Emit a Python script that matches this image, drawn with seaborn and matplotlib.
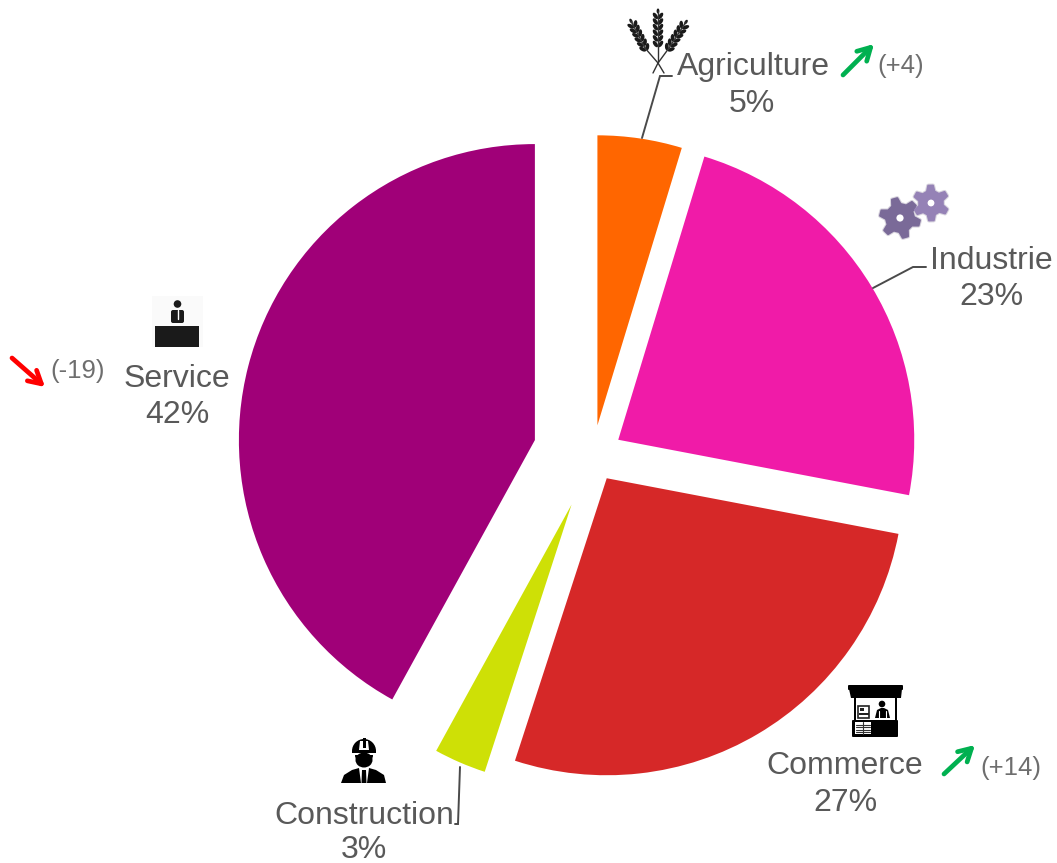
import numpy as np
import matplotlib
matplotlib.use("Agg")
import matplotlib.pyplot as plt
from matplotlib.patches import Circle, Ellipse, Polygon, Rectangle, FancyBboxPatch, Wedge
import seaborn as sns

categories = ["Agriculture", "Industrie", "Commerce", "Construction", "Service"]
shares = [4.7, 23.3, 27, 3, 42]
share_labels = ["5%", "23%", "27%", "3%", "42%"]
changes = ["(+4)", None, "(+14)", None, "(-19)"]
trend_up = [True, None, True, None, False]

slice_colors = ["#FF6600", "#F01BA8", "#D62828", "#CEE006", "#A00078"]
explode = [30, 29.5, 27, 54, 60]
radii = [290, 296, 297, 281, 296]
label_xy = [(753, 64), (991, 257), (845, 762), (364, 812), (177, 375)]
pct_xy = [(752, 100), (991, 293), (845, 799), (364, 846), (177, 411)]
change_xy = [(901, 64), None, (1011, 765), None, (78, 368)]
arrow_from = [(843, 75), None, (944, 774), None, (12, 358)]
arrow_to = [(874, 44), None, (975, 745), None, (45, 387)]
leaders = [
    [(642, 138), (660, 76), (672, 76)],
    [(873, 288), (913, 267), (926, 267)],
    None,
    [(455, 824), (458, 824), (460, 767)],
    None,
]

W, H = 1057, 863
TEXT = "#595959"
CX, CY = 593, 455

sns.set_theme(style="white")
plt.rcParams["font.family"] = ["Liberation Sans", "DejaVu Sans"]

fig = plt.figure(figsize=(W / 100, H / 100), dpi=100, facecolor="white")
ax = fig.add_axes([0, 0, 1, 1])
wedges, _ = ax.pie(
    shares,
    colors=sns.color_palette(slice_colors),
    explode=explode,
    startangle=90,
    counterclock=False,
    radius=296,
    center=(CX, H - CY),
    frame=True,
)
for w, r in zip(wedges, radii):
    w.set_radius(r)
    w.set_linewidth(0)
ax.set_xlim(0, W)
ax.set_ylim(0, H)
ax.set_axis_off()

# overlay in reference pixel coordinates
ov = fig.add_axes([0, 0, 1, 1], facecolor="none")
ov.set_xlim(0, W)
ov.set_ylim(H, 0)
ov.set_axis_off()

for i, cat in enumerate(categories):
    ov.text(*label_xy[i], cat, fontsize=23.0, color=TEXT, ha="center", va="center_baseline")
    ov.text(*pct_xy[i], share_labels[i], fontsize=23.0, color=TEXT, ha="center", va="center_baseline")
    if changes[i]:
        ov.text(*change_xy[i], changes[i], fontsize=18.5, color="#6E6E6E", ha="center", va="center_baseline")
        ov.annotate(
            "", xy=arrow_to[i], xytext=arrow_from[i],
            arrowprops=dict(arrowstyle="->,head_length=0.75,head_width=0.42", lw=3.4,
                            color="#00B050" if trend_up[i] else "#FF0000",
                            shrinkA=0, shrinkB=0),
        )
    if leaders[i]:
        xs, ys = zip(*leaders[i])
        ov.plot(xs, ys, color="#4A4A4A", lw=1.4, solid_joinstyle="miter")

DARK = "#1A1A1A"


def ear(x0, y0, x1, y1, n=6):
    """Wheat ear along a line, with pairs of grains."""
    ang = np.degrees(np.arctan2(y1 - y0, x1 - x0))
    ov.plot([x0, x1], [y0, y1], color="#333333", lw=1.0)
    for t in np.linspace(0.0, 0.85, n):
        px, py = x0 + (x1 - x0) * t, y0 + (y1 - y0) * t
        for s in (-1, 1):
            a = np.radians(ang + s * 90)
            ov.add_patch(Ellipse((px + 2.6 * np.cos(a), py + 2.6 * np.sin(a)), 7.5, 3.8,
                                 angle=ang + s * 35, color=DARK, lw=0))
    ov.add_patch(Ellipse((x1, y1), 5, 2.8, angle=ang, color=DARK, lw=0))


# Wheat (Agriculture)
ear(658, 44, 658, 11)
ear(645, 48, 631, 21)
ear(669, 48, 686, 22)
for seg in [((658, 62), (658, 44)), ((658, 63), (645, 48)), ((658, 63), (669, 48)),
            ((658, 63), (653, 73)), ((658, 63), (664, 73))]:
    ov.plot(*zip(*seg), color="#333333", lw=1.0)


def gear(cx, cy, ro, ri, hole, color, teeth=6, phase=0.0):
    pts = []
    step = 2 * np.pi / teeth
    for k in range(teeth):
        a = phase + k * step
        for da, r in [(-0.30, ri), (-0.13, ro), (0.13, ro), (0.30, ri)]:
            pts.append((cx + r * np.cos(a + da * step), cy + r * np.sin(a + da * step)))
    ov.add_patch(Polygon(pts, closed=True, facecolor="#D8D4DE", edgecolor="#D8D4DE", lw=3,
                         joinstyle="round", zorder=2))
    ov.add_patch(Polygon(pts, closed=True, facecolor=color, edgecolor=color, lw=1.5,
                         joinstyle="round", zorder=3))
    ov.add_patch(Circle((cx, cy), hole, color="white", lw=0, zorder=4))


# Gears (Industrie)
gear(900, 218, 20, 14, 3.6, "#7A6A98", teeth=6, phase=0.25)
gear(931, 203, 17.5, 12, 3.4, "#9582B6", teeth=6, phase=0.5)

# Desk and clerk (Service)
ov.add_patch(Rectangle((152, 296), 51, 51, color="#FAFAFA", lw=0))
ov.add_patch(Rectangle((155, 326), 44, 21, color=DARK, lw=0))
ov.add_patch(Circle((177.5, 304), 3.8, color=DARK, lw=0))
ov.add_patch(FancyBboxPatch((171, 310), 13, 13, boxstyle="round,pad=0,rounding_size=2", color=DARK, lw=0))
ov.plot([177.5, 177.5], [310, 319], color="white", lw=1.0)

# Market stall (Commerce)
ov.add_patch(FancyBboxPatch((848, 685), 55, 5, boxstyle="round,pad=0,rounding_size=1", color="black", lw=0))
ov.add_patch(Polygon([(849, 689), (902, 689), (901, 698), (851, 698)], color="black", lw=0))
ov.add_patch(Rectangle((854, 697), 2, 24, color="black", lw=0))
ov.add_patch(Rectangle((895, 697), 2, 24, color="black", lw=0))
ov.add_patch(FancyBboxPatch((852, 720), 46, 17, boxstyle="round,pad=0,rounding_size=1", color="black", lw=0))
ov.add_patch(Rectangle((855, 722), 16, 12, color="white", lw=0))
for yy in (724.5, 727, 729.5, 732):
    ov.plot([856, 870], [yy, yy], color="#333333", lw=0.8)
ov.plot([863, 863], [722, 734], color="#333333", lw=0.8)
ov.add_patch(Rectangle((858, 706), 11, 12, facecolor="white", edgecolor="#222222", lw=1.2))
ov.add_patch(Rectangle((860, 708), 4, 3, color="#222222", lw=0))
ov.add_patch(Rectangle((858.5, 713), 10, 1.5, color="#222222", lw=0))
ov.add_patch(Circle((882, 704), 3.3, color="black", lw=0))
ov.add_patch(Polygon([(875, 718), (877, 710), (881, 708), (884, 708), (888, 710), (890, 718)], color="black", lw=0))
ov.plot([879, 879], [711, 718], color="white", lw=0.8)
ov.plot([886, 886], [711, 718], color="white", lw=0.8)

# Worker with helmet (Construction)
ov.add_patch(Wedge((364, 751), 12, 180, 360, color="black", lw=0))
ov.add_patch(Polygon([(352, 751), (376, 751), (376, 753), (352, 753)], color="black", lw=0))
ov.add_patch(Polygon([(360, 741), (368, 741), (369, 750), (359, 750)], color="white", lw=0))
ov.add_patch(Polygon([(362.5, 738), (365.5, 738), (365.5, 748), (362.5, 748)], color="black", lw=0))
ov.add_patch(Wedge((364, 755), 9, 0, 180, color="black", lw=0))
ov.add_patch(Ellipse((364, 760), 17, 15, color="black", lw=0))
ov.add_patch(Polygon([(341, 783), (344, 775), (352, 770), (359, 768), (369, 768), (376, 770),
                      (384, 775), (386, 783)], color="black", lw=0))
ov.add_patch(Polygon([(359, 768), (369, 768), (367, 783), (361, 783)], color="white", lw=0))
ov.add_patch(Polygon([(362, 770), (366, 770), (366.5, 783), (361.5, 783)], color="black", lw=0))

fig.savefig("out.png", dpi=100, facecolor="white")
